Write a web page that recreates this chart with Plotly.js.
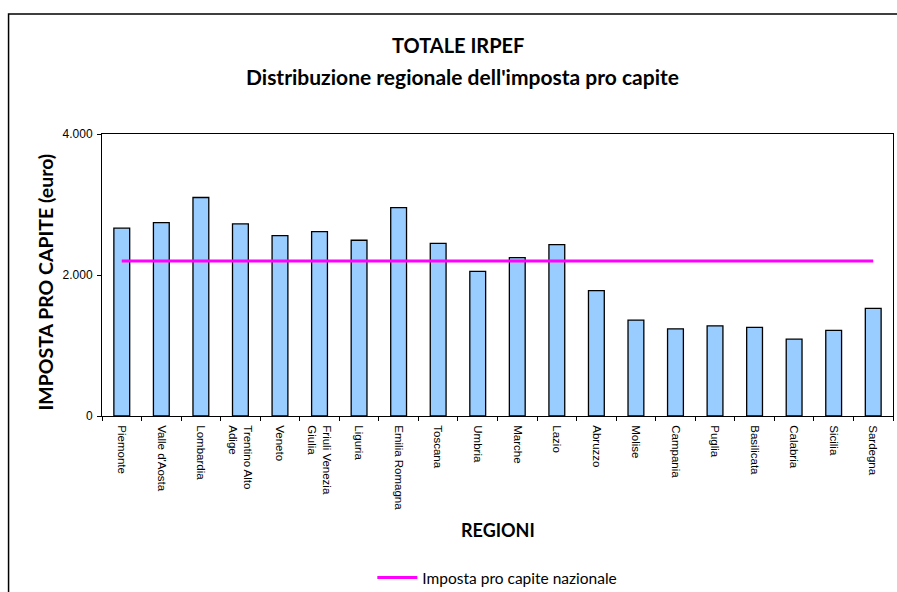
<!DOCTYPE html>
<html>
<head>
<meta charset="utf-8">
<script src="https://cdn.plot.ly/plotly-3.0.1.min.js"></script>
<style>html,body{margin:0;padding:0;background:#fff;}#chart{width:897px;height:592px;}</style>
</head>
<body>
<div id="chart"></div>
<script>
const regions = ["Piemonte","Valle d'Aosta","Lombardia","Trentino Alto<br>Adige","Veneto","Friuli Venezia<br>Giulia","Liguria","Emilia Romagna","Toscana","Umbria","Marche","Lazio","Abruzzo","Molise","Campania","Puglia","Basilicata","Calabria","Sicilia","Sardegna"];
const imposta = [2664,2743,3099,2725,2559,2616,2493,2957,2450,2052,2246,2431,1777,1360,1237,1279,1256,1090,1214,1527];
const nationalValue = 2200;
const nationalSeries = regions.map(() => nationalValue);
const yTicks = [0,2000,4000];

const L = 101.5, R = 4, T = 134, B = 176, W = 897, H = 592;
const pw = W - L - R, ph = H - T - B;
const px = v => (v - L) / pw;
const py = v => 1 - (v - T) / ph;
const titleFont = 'Lato, "Open Sans", sans-serif';

const data = [
  {type:'bar', x: regions, y: imposta, marker:{color:'#99CCFF', line:{color:'#000', width:1.3}}, showlegend:false, hoverinfo:'x+y'},
  {type:'scatter', mode:'lines', x: regions, y: nationalSeries, name:'Imposta pro capite nazionale', line:{color:'#FF00FF', width:3}}
];
const layout = {
  width: W, height: H,
  margin:{l:L, r:R, t:T, b:B, autoexpand:false},
  paper_bgcolor:'#fff', plot_bgcolor:'#fff',
  separators: ',.',
  bargap: 0.6,
  xaxis:{
    type:'category', tickangle:90, tickson:'boundaries', ticks:'outside', ticklen:4, tickcolor:'#000',
    showline:true, linecolor:'#000', linewidth:1, mirror:true, showgrid:false,
    tickfont:{family:'"Liberation Sans", Arial, sans-serif', size:11.5, color:'#000'},
    ticklabelstandoff:6,
    automargin:false
  },
  yaxis:{
    range:[0,4000], tickvals:yTicks, tickformat:',d', ticks:'outside', ticklen:4, tickcolor:'#000',
    showline:true, linecolor:'#000', linewidth:1, mirror:true, showgrid:false, zeroline:false,
    tickfont:{family:'"Liberation Sans", Arial, sans-serif', size:12, color:'#000'},
    ticklabelstandoff:2,
    automargin:false
  },
  annotations:[
    {text:'<b>TOTALE IRPEF</b>', xref:'paper', yref:'paper', x:px(458), y:py(45), xanchor:'center', yanchor:'middle', showarrow:false, font:{family:titleFont, size:20, color:'#000'}},
    {text:'<b>Distribuzione regionale dell\'imposta pro capite</b>', xref:'paper', yref:'paper', x:px(462), y:py(76.5), xanchor:'center', yanchor:'middle', showarrow:false, font:{family:titleFont, size:21, color:'#000'}},
    {text:'<b>IMPOSTA PRO CAPITE (euro)</b>', xref:'paper', yref:'paper', x:px(44), y:py(282), xanchor:'center', yanchor:'middle', textangle:-90, showarrow:false, font:{family:titleFont, size:19.5, color:'#000'}},
    {text:'<b>REGIONI</b>', xref:'paper', yref:'paper', x:px(498), y:py(530), xanchor:'center', yanchor:'middle', showarrow:false, font:{family:titleFont, size:18, color:'#000'}}
  ],
  legend:{orientation:'h', x:px(372), xanchor:'left', y:py(578), yanchor:'middle', font:{family:titleFont, size:15.5, color:'#000'}, bgcolor:'rgba(0,0,0,0)', itemwidth:40},
  shapes:[
    {type:'rect', xref:'paper', yref:'paper', x0:px(8), x1:px(905), y0:py(600), y1:py(14), line:{color:'#000', width:1.5}, fillcolor:'rgba(0,0,0,0)', layer:'below'}
  ]
};
Plotly.newPlot('chart', data, layout, {displayModeBar:false, staticPlot:true});
</script>
</body>
</html>
